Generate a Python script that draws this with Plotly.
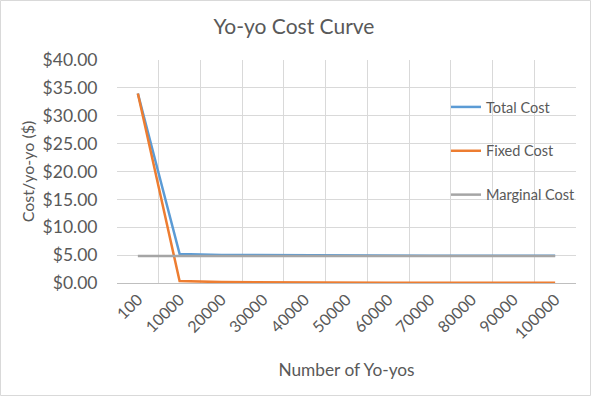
import plotly.graph_objects as go

categories = ["100", "10000", "20000", "30000", "40000", "50000", "60000", "70000", "80000", "90000", "100000"]
total_cost = [34.0, 5.22, 5.02, 4.97, 4.94, 4.92, 4.91, 4.90, 4.89, 4.89, 4.88]
fixed_cost = [34.0, 0.34, 0.17, 0.11, 0.085, 0.068, 0.057, 0.049, 0.043, 0.038, 0.034]
marginal_cost = [4.85] * 11
y_ticks = [0, 5, 10, 15, 20, 25, 30, 35, 40]

FONT = "Lato, 'Open Sans', sans-serif"
TXT = "#595959"

fig = go.Figure()
series = [("Total Cost", total_cost, "#5B9BD5"),
          ("Fixed Cost", fixed_cost, "#ED7D31"),
          ("Marginal Cost", marginal_cost, "#A5A5A5")]
for name, vals, col in series:
    fig.add_trace(go.Scatter(x=categories, y=vals, name=name, mode="lines",
                             line=dict(color=col, width=2.5), legendgroup=name))

L, R, T, B = 117, 15, 60, 113
W, H = 591, 396
pw, ph = W - L - R, H - T - B

fig.update_layout(
    width=W, height=H,
    margin=dict(l=L, r=R, t=T, b=B, autoexpand=False),
    paper_bgcolor="white", plot_bgcolor="white",
    font=dict(family=FONT, color=TXT),
    title=dict(text="Yo-yo Cost Curve", x=294 / W, xanchor="center", y=1 - 27 / H, yanchor="middle",
               font=dict(size=21, color=TXT)),
    legend=dict(x=(446 - L) / pw, y=(283 - 91) / ph, xanchor="left", yanchor="top",
                bgcolor="rgba(0,0,0,0)", font=dict(size=14.5, color=TXT),
                traceorder="grouped", tracegroupgap=22, itemwidth=30),
    xaxis=dict(type="category", categoryorder="array", categoryarray=categories,
               range=[-0.5, 10.5], tickson="boundaries", showgrid=True, gridcolor="#D9D9D9",
               gridwidth=1, tickangle=-45, tickfont=dict(size=16, color=TXT),
               showline=True, linecolor="#BFBFBF", linewidth=1, ticks="outside", ticklen=3,
               tickcolor="rgba(0,0,0,0)", zeroline=False, automargin=False,
               title=dict(text="Number of Yo-yos", font=dict(size=17.3, color=TXT), standoff=22)),
    yaxis=dict(range=[0, 40], tickvals=y_ticks, ticktext=["$%.2f" % v for v in y_ticks],
               showgrid=True, gridcolor="#D9D9D9", gridwidth=1, zeroline=False,
               tickfont=dict(size=17.5, color=TXT), ticks="outside", ticklen=15, tickcolor="rgba(0,0,0,0)",
               showline=False, automargin=False,
               title=dict(text="Cost/yo-yo ($)", font=dict(size=16, color=TXT), standoff=4)),
    shapes=[dict(type="rect", xref="paper", yref="paper",
                 x0=(0.5 - L) / pw, x1=(W - 0.5 - L) / pw,
                 y0=(283 - (H - 0.5)) / ph, y1=(283 - 0.5) / ph,
                 line=dict(color="#D9D9D9", width=1), layer="below")],
)
fig.write_html("out.html", config={"displayModeBar": False},
               post_script="document.body.style.margin='0';document.body.style.padding='0';")
